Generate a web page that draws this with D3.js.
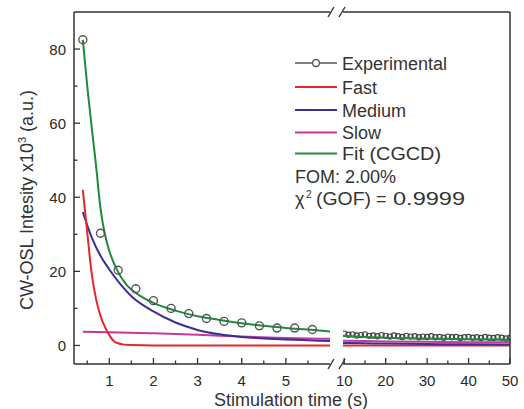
<!DOCTYPE html>
<html><head><meta charset="utf-8">
<script src="https://cdn.jsdelivr.net/npm/d3@7"></script>
<style>body{margin:0;background:#fff}svg{display:block;font-family:"Liberation Sans",Arial,sans-serif}</style>
</head><body><svg id="c" width="524" height="409"></svg>
<script>
// ---- data ----
const expT = [0.4,0.8,1.2,1.6,2.0,2.4,2.8,3.2,3.6,4.0,4.4,4.8,5.2,5.6];
const expV = [82.5,30.3,20.3,15.3,12.1,10.0,8.6,7.3,6.5,6.1,5.3,4.7,4.7,4.3];
const expRT = [10,11,12,13,14,15,16,17,18,19,20,21,22,23,24,25,26,27,28,29,30,31,32,33,34,35,36,37,38,39,40,41,42,43,44,45,46,47,48,49,50];
const expRV = [3.2,2.9,3.0,2.7,2.8,3.0,2.6,2.7,2.5,2.8,2.6,2.4,2.7,2.5,2.3,2.6,2.4,2.5,2.2,2.4,2.3,2.5,2.2,2.3,2.1,2.4,2.2,2.3,2.0,2.2,2.3,2.1,2.2,2.0,2.3,2.1,2.0,2.2,2.1,1.9,2.1];

const fastT = [0.4,0.5,0.6,0.7,0.8,0.9,1.0,1.1,1.2,1.3,1.5,2,3,4,5,6];
const fastV = [42,30.5,19.5,12.5,8,5,2.8,1.2,0.6,0.3,0.1,0,0,0,0,0];
const medT = [0.4,0.6,0.8,1.0,1.2,1.5,2.0,2.5,3.0,3.5,4.0,4.5,5.0,5.5,6.0];
const medV = [36,29.2,24.2,20.5,17.3,13.3,9.2,6.2,4.2,3.0,2.3,1.9,1.6,1.4,1.2];
const slowT = [0.4,1,2,3,4,5,6];
const slowV = [3.7,3.6,3.3,2.9,2.4,2.0,1.8];
const fitT = [0.4,0.5,0.6,0.7,0.8,0.9,1.0,1.2,1.4,1.7,2.0,2.5,3.0,3.5,4.0,4.5,5.0,5.5,6.0];
const fitV = [82.5,70,59,48.5,37,30,25.5,19.8,16.2,13.4,11.5,9.4,7.9,6.9,6.0,5.3,4.7,4.3,3.8];

const rT = [9.7,15,20,30,40,50];
const fastRV = [0,0,0,0,0,0];
const medRV = [0.7,0.6,0.5,0.4,0.3,0.25];
const slowRV = [1.3,1.2,1.1,1.0,0.9,0.85];
const fitRV = [2.6,2.3,2.1,1.9,1.7,1.6];

const yTicks = [0,20,40,60,80];
const yMinor = [10,30,50,70];
const xTicksL = [1,2,3,4,5];
const xMinorL = [0.5,1.5,2.5,3.5,4.5,5.5];
const xTicksR = [10,20,30,40,50];
const xMinorR = [15,25,35,45];

const names = ["Experimental","Fast","Medium","Slow","Fit (CGCD)"];
const colors = ["#555","#e8262a","#3b2f97","#c23a9e","#1c8c3c"];

// ---- scales ----
const L0=74, L1=330, R0=343, R1=510, T=12, B=364;
const xL = d3.scaleLinear().domain([0.2,6.0]).range([L0,L1]);
const xR = d3.scaleLinear().domain([9.7,50]).range([R0,R1]);
const y = d3.scaleLinear().domain([-5,90]).range([B,T]);

const svg = d3.select("#c");
const defs = svg.append("defs");
defs.append("clipPath").attr("id","cl").append("rect").attr("x",L0).attr("y",T).attr("width",L1-L0).attr("height",B-T);
defs.append("clipPath").attr("id","cr").append("rect").attr("x",R0).attr("y",T).attr("width",R1-R0).attr("height",B-T);

const axCol="#333";
const tickCol="#2a2a2a";

function drawSeries(g, xs, T_, V_, color){
  const line = d3.line().x((d,i)=>xs(T_[i])).y((d,i)=>y(V_[i])).curve(d3.curveMonotoneX);
  g.append("path").datum(V_).attr("d",line).attr("fill","none").attr("stroke",color).attr("stroke-width",2);
}
const gL = svg.append("g").attr("clip-path","url(#cl)");
drawSeries(gL,xL,slowT,slowV,colors[3]);
drawSeries(gL,xL,medT,medV,colors[2]);
drawSeries(gL,xL,fastT,fastV,colors[1]);
drawSeries(gL,xL,fitT,fitV,colors[4]);
gL.selectAll("circle").data(expT).enter().append("circle")
  .attr("cx",d=>xL(d)).attr("cy",(d,i)=>y(expV[i])).attr("r",4)
  .attr("fill","none").attr("stroke","#555").attr("stroke-width",1.4);

const gR = svg.append("g").attr("clip-path","url(#cr)");
drawSeries(gR,xR,rT,fastRV,colors[1]);
drawSeries(gR,xR,rT,medRV,colors[2]);
drawSeries(gR,xR,rT,slowRV,colors[3]);
gR.selectAll("circle").data(expRT).enter().append("circle")
  .attr("cx",d=>xR(d)).attr("cy",(d,i)=>y(expRV[i])).attr("r",2.6)
  .attr("fill","none").attr("stroke","#444").attr("stroke-width",1.2);
drawSeries(gR,xR,rT,fitRV,colors[4]);

// ---- frame ----
const fr = svg.append("g").attr("stroke",axCol).attr("stroke-width",1.5).attr("fill","none");
fr.append("line").attr("x1",L0).attr("x2",L0).attr("y1",T).attr("y2",B);
fr.append("line").attr("x1",R1).attr("x2",R1).attr("y1",T).attr("y2",B);
fr.append("line").attr("x1",L0).attr("x2",L1).attr("y1",T).attr("y2",T);
fr.append("line").attr("x1",R0).attr("x2",R1).attr("y1",T).attr("y2",T);
fr.append("line").attr("x1",L0).attr("x2",L1).attr("y1",B).attr("y2",B);
fr.append("line").attr("x1",R0).attr("x2",R1).attr("y1",B).attr("y2",B);
// break marks
[T,B].forEach(yy=>{
  [L1+1,R0-1].forEach(xx=>{
    fr.append("line").attr("x1",xx-3).attr("y1",yy+5).attr("x2",xx+3).attr("y2",yy-5).attr("stroke-width",1.4);
  });
});

// ---- ticks (inward) ----
const tg = svg.append("g").attr("stroke",axCol).attr("stroke-width",1.3);
yTicks.forEach(v=>tg.append("line").attr("x1",L0).attr("x2",L0+6).attr("y1",y(v)).attr("y2",y(v)));
yMinor.forEach(v=>tg.append("line").attr("x1",L0).attr("x2",L0+3.5).attr("y1",y(v)).attr("y2",y(v)));
xTicksL.forEach(v=>tg.append("line").attr("x1",xL(v)).attr("x2",xL(v)).attr("y1",B).attr("y2",B-6));
xMinorL.forEach(v=>tg.append("line").attr("x1",xL(v)).attr("x2",xL(v)).attr("y1",B).attr("y2",B-3.5));
xTicksR.forEach(v=>tg.append("line").attr("x1",xR(v)).attr("x2",xR(v)).attr("y1",B).attr("y2",B-6));
xMinorR.forEach(v=>tg.append("line").attr("x1",xR(v)).attr("x2",xR(v)).attr("y1",B).attr("y2",B-3.5));

const lab = svg.append("g").attr("fill",tickCol).attr("font-size",15);
yTicks.forEach(v=>lab.append("text").attr("x",L0-8).attr("y",y(v)+5.5).attr("text-anchor","end").text(v));
xTicksL.forEach(v=>lab.append("text").attr("x",xL(v)).attr("y",386).attr("text-anchor","middle").text(v));
xTicksR.forEach(v=>lab.append("text").attr("x",xR(v)).attr("y",386).attr("text-anchor","middle").text(v));

// ---- axis titles ----
svg.append("text").attr("x",291).attr("y",406).attr("text-anchor","middle").attr("font-size",18).attr("fill","#333").text("Stimulation time (s)");
const yt = svg.append("text").attr("transform","translate(33,200) rotate(-90)").attr("text-anchor","middle").attr("font-size",18).attr("fill","#333");
yt.append("tspan").text("CW-OSL Intesity x10");
yt.append("tspan").attr("font-size",11).attr("dy",-7).text("3");
yt.append("tspan").attr("dy",7).text(" (a.u.)");

// ---- legend ----
const lg = svg.append("g");
const rowY = [63,87,110,132.5,153.5];
names.forEach((n,i)=>{
  lg.append("line").attr("x1",295).attr("x2",337).attr("y1",rowY[i]).attr("y2",rowY[i])
    .attr("stroke",colors[i]).attr("stroke-width",i===0?1.5:2.2);
  if(i===0) lg.append("circle").attr("cx",316).attr("cy",rowY[i]).attr("r",3.5).attr("fill","#fff").attr("stroke","#555").attr("stroke-width",1.4);
  const t = lg.append("text").attr("x",342).attr("y",rowY[i]+6.5).attr("font-size",18).attr("fill","#333").text(n);
  if(i===4) t.attr("textLength",99).attr("lengthAdjust","spacingAndGlyphs");
});
lg.append("text").attr("x",295).attr("y",183).attr("font-size",18).attr("fill","#333").text("FOM: 2.00%");
const ct = lg.append("g").attr("font-size",18).attr("fill","#333");
ct.append("text").attr("x",295).attr("y",205).text("χ");
ct.append("text").attr("x",306).attr("y",198).attr("font-size",10).text("2");
ct.append("text").attr("x",316).attr("y",205).attr("textLength",55).attr("lengthAdjust","spacingAndGlyphs").text("(GOF)");
ct.append("text").attr("x",376).attr("y",205).text("=");
ct.append("text").attr("x",393).attr("y",205).attr("textLength",72).attr("lengthAdjust","spacingAndGlyphs").text("0.9999");
</script></body></html>
